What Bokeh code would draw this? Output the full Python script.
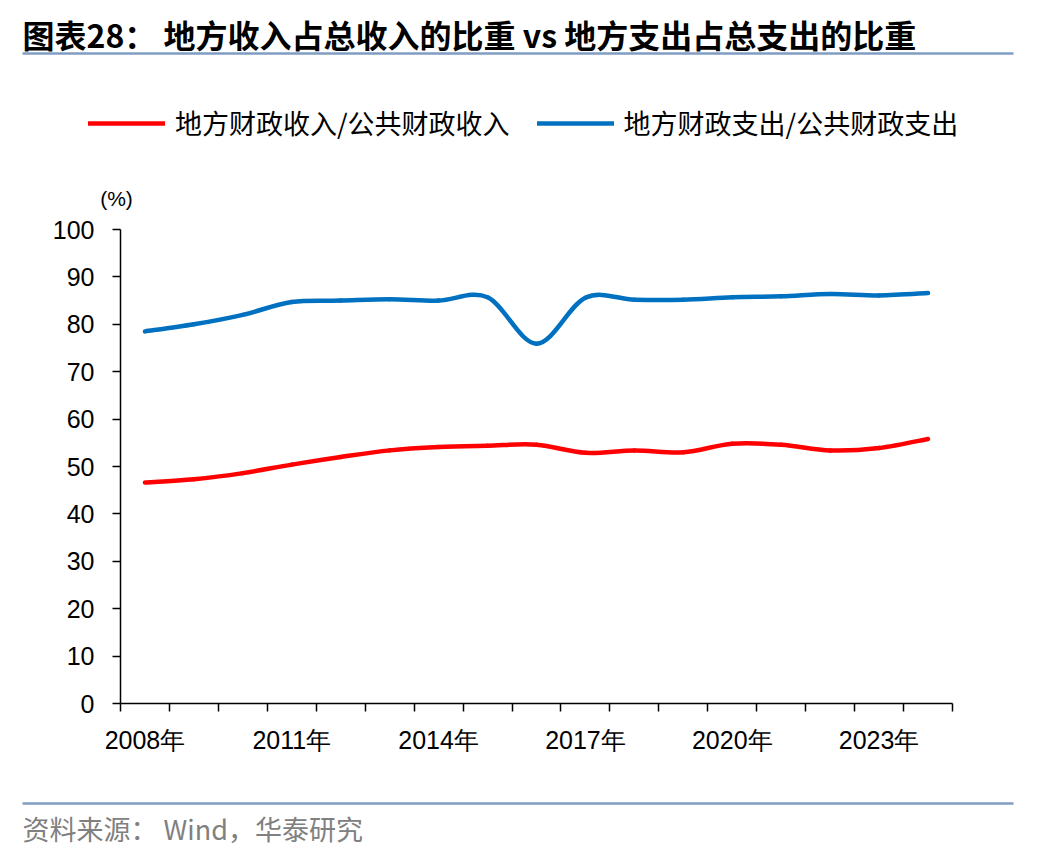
import numpy as np
from bokeh.plotting import figure
from bokeh.models import (Range1d, FixedTicker, Label, Legend, LegendItem,
                          ColumnDataSource, BoxAnnotation)
from bokeh.embed import file_html
from bokeh.resources import INLINE

# ---------------- data ----------------
years = list(range(2008, 2025))
local_rev_share = [46.6, 47.3, 48.6, 50.4, 52.0, 53.4, 54.1, 54.4, 54.6,
                   52.9, 53.4, 53.0, 54.8, 54.6, 53.4, 53.9, 55.8]
local_exp_share = [78.5, 80.0, 82.0, 84.7, 85.0, 85.3, 85.0, 85.7, 75.9,
                   85.6, 85.2, 85.2, 85.7, 85.9, 86.4, 86.1, 86.6]
series_names = ["地方财政收入/公共财政收入", "地方财政支出/公共财政支出"]
series_colors = ["#FF0000", "#0070C0"]
x_tick_years = [2008, 2011, 2014, 2017, 2020, 2023]
x_tick_labels = ["2008年", "2011年", "2014年", "2017年", "2020年", "2023年"]
y_ticks = [0, 10, 20, 30, 40, 50, 60, 70, 80, 90, 100]
title_text = "图表28：  地方收入占总收入的比重 vs  地方支出占总支出的比重"
unit_text = "(%)"
source_text = "资料来源：  Wind，华泰研究"

# ---------------- layout constants (pixels inside the canvas) ----------------
W, H = 1046, 850
PLOT_L, PLOT_R = 120, 952        # x pixel of first/last category boundary
PLOT_T, PLOT_B = 229, 703        # y pixel (from top) of 100 and 0
CJK = "Noto Sans CJK SC"
LAT = "Liberation Sans"
RULE = "#7F9CC2"

x_lo, x_hi = years[0] - 0.5, years[-1] + 0.5
y_lo, y_hi = y_ticks[0], y_ticks[-1]
px_x = (PLOT_R - PLOT_L) / (x_hi - x_lo)
px_y = (PLOT_B - PLOT_T) / (y_hi - y_lo)
x_range = Range1d(x_lo - PLOT_L / px_x, x_hi + (W - PLOT_R) / px_x)
y_range = Range1d(y_lo - (H - PLOT_B) / px_y, y_hi + PLOT_T / px_y)


def smooth_source(xs, ys):
    """Catmull-Rom style Bezier segments through the data points."""
    x = np.asarray(xs, float)
    y = np.asarray(ys, float)
    n = len(x)
    xp = np.concatenate([[x[0]], x, [x[-1]]])
    yp = np.concatenate([[y[0]], y, [y[-1]]])
    return ColumnDataSource(dict(
        x0=x[:-1], y0=y[:-1], x1=x[1:], y1=y[1:],
        cx0=x[:-1] + (xp[2:n + 1] - xp[0:n - 1]) / 6.0,
        cy0=y[:-1] + (yp[2:n + 1] - yp[0:n - 1]) / 6.0,
        cx1=x[1:] - (xp[3:n + 2] - xp[1:n]) / 6.0,
        cy1=y[1:] - (yp[3:n + 2] - yp[1:n]) / 6.0,
    ))


p = figure(width=W, height=H, x_range=x_range, y_range=y_range,
           output_backend="svg", toolbar_location=None, min_border=0)
p.outline_line_color = None
p.grid.visible = False

renderers = []
for vals, col in zip([local_rev_share, local_exp_share], series_colors):
    r = p.bezier(x0="x0", y0="y0", x1="x1", y1="y1", cx0="cx0", cy0="cy0",
                 cx1="cx1", cy1="cy1", source=smooth_source(years, vals),
                 line_color=col, line_width=4.5, line_cap="round")
    renderers.append(r)

# x axis (drawn at y = 0)
p.xaxis.fixed_location = y_lo
p.xaxis.bounds = (x_lo, x_hi)
p.xaxis.ticker = FixedTicker(ticks=x_tick_years,
                             minor_ticks=[yr - 0.5 for yr in years] + [x_hi])
p.xaxis.major_label_overrides = {yr: lab for yr, lab in zip(x_tick_years, x_tick_labels)}
p.xaxis.major_tick_line_color = None
p.xaxis.major_tick_in = 0
p.xaxis.major_tick_out = 8
p.xaxis.minor_tick_in = 0
p.xaxis.minor_tick_out = 8
p.xaxis.minor_tick_line_color = "#000000"
p.xaxis.minor_tick_line_width = 1.5
p.xaxis.major_label_standoff = 14

# y axis (drawn at the first category boundary)
p.yaxis.fixed_location = x_lo
p.yaxis.bounds = (y_lo, y_hi)
p.yaxis.ticker = FixedTicker(ticks=y_ticks)
p.yaxis.major_tick_in = 0
p.yaxis.major_tick_out = 8
p.yaxis.minor_tick_line_color = None
p.yaxis.major_label_standoff = 18

for ax in (p.xaxis, p.yaxis):
    ax.axis_line_color = "#000000"
    ax.axis_line_width = 1.5
    ax.major_tick_line_width = 1.5
    ax.major_label_text_font = LAT
    ax.major_label_text_font_size = "25px"
    ax.major_label_text_color = "#000000"

# title and rule
p.add_layout(Label(x=22, y=H - 33, x_units="screen", y_units="screen",
                   text=title_text, text_align="left", text_baseline="middle",
                   text_font=CJK, text_font_style="bold", text_font_size="32px",
                   text_color="#000000"))
p.add_layout(BoxAnnotation(left=22, right=1013, bottom=H - 54.3, top=H - 51.7,
                           left_units="screen", right_units="screen",
                           bottom_units="screen", top_units="screen",
                           fill_color=RULE, fill_alpha=1, line_color=None,
                           level="overlay"))

# unit label
p.add_layout(Label(x=116, y=H - 198, x_units="screen", y_units="screen",
                   text=unit_text, text_align="center", text_baseline="middle",
                   text_font=LAT, text_font_size="21px", text_color="#000000"))

# legend
legend = Legend(items=[LegendItem(label=n, renderers=[r])
                       for n, r in zip(series_names, renderers)],
                orientation="horizontal", location=(88, H - 142),
                glyph_width=77, glyph_height=20, label_standoff=10, spacing=27,
                padding=0, margin=0, border_line_color=None,
                background_fill_alpha=0,
                label_text_font=CJK, label_text_font_size="27px",
                label_text_color="#000000")
p.add_layout(legend)

# footer rule and source
p.add_layout(BoxAnnotation(left=22, right=1013, bottom=H - 804.3, top=H - 801.7,
                           left_units="screen", right_units="screen",
                           bottom_units="screen", top_units="screen",
                           fill_color=RULE, fill_alpha=1, line_color=None,
                           level="overlay"))
p.add_layout(Label(x=22, y=H - 828, x_units="screen", y_units="screen",
                   text=source_text, text_align="left", text_baseline="middle",
                   text_font=CJK, text_font_size="27px", text_color="#808080"))

open("out.html", "w").write(file_html(p, INLINE))
